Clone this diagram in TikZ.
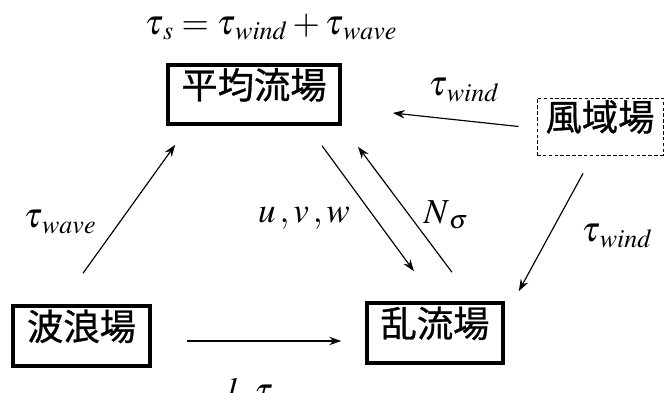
\documentclass[tikz,border=0pt]{standalone}
\usepackage{mathptmx}
\usepackage{fontspec}
\newfontfamily\cjk{Noto Sans CJK JP}[UprightFeatures={FakeBold=0.8}]
\usetikzlibrary{arrows.meta}
\tikzset{
  field/.style ={draw=black,line width=3pt,font=\cjk\fontsize{31}{34}\selectfont,
                 text height=0.82em,text depth=0.12em,inner sep=0pt},
  ext/.style   ={field,line width=0.8pt,dashed,dash pattern=on 3pt off 2pt},
  lab/.style   ={font=\fontsize{30}{34}\selectfont,inner sep=0pt},
  arr/.style   ={-{Stealth[length=3.6mm,width=2.5mm]},line width=1pt},
}

\begin{document}
\begin{tikzpicture}[x=0.03cm,y=-0.03cm]
 \useasboundingbox (0,0) rectangle (664,393);
 % fields
 \node[field,minimum width=172*0.03cm,minimum height=59*0.03cm] (mean) at (254,94.5) {平均流場};
 \node[ext,minimum width=126*0.03cm,minimum height=57*0.03cm] (wind) at (600,126.5) {風域場};
 \node[field,minimum width=137*0.03cm,minimum height=60*0.03cm] (wave) at (81.5,336) {波浪場};
 \node[field,minimum width=136*0.03cm,minimum height=60*0.03cm] (turb) at (435,333) {乱流場};
 % fluxes
 \draw[arr] ([shift={(1.5,-31)}]wave.north) -- ([shift={(9,19)}]mean.south west);
 \draw[arr] ([shift={(-18,0)}]wind.west) -- ([shift={(51,18.5)}]mean.east);
 \draw[arr] ([shift={(68,20)}]mean.south) -- ([shift={(-21,-30)}]turb.north);
 \draw[arr] ([shift={(17,-29)}]turb.north) -- ([shift={(104,21)}]mean.south);
 \draw[arr] ([shift={(-17,18)}]wind.south) -- ([shift={(14,-10)}]turb.north east);
 \draw[arr] ([shift={(35,5)}]wave.east) -- ([shift={(-24,8)}]turb.west);
 % labels
 \node[lab] (ts) at (271,27) {$\tau_{\,s}\;{=}\;\tau_{\,wind}+\tau_{\,wave}$};
 \node[lab] (twtop) at (464,90) {$\tau_{\,wind}$};
 \node[lab] (twv) at (60,222) {$\tau_{\,wave}$};
 \node[lab] (uvw) at (304,218) {$u\,,v\,,w$};
 \node[lab] (ns) at (446,215) {$N_{\,\sigma}$};
 \node[lab] (twr) at (617,236) {$\tau_{\,wind}$};
 \node[lab,anchor=base] (lt) at (250,402) {$l\;\;\tau$};
\end{tikzpicture}
\end{document}
